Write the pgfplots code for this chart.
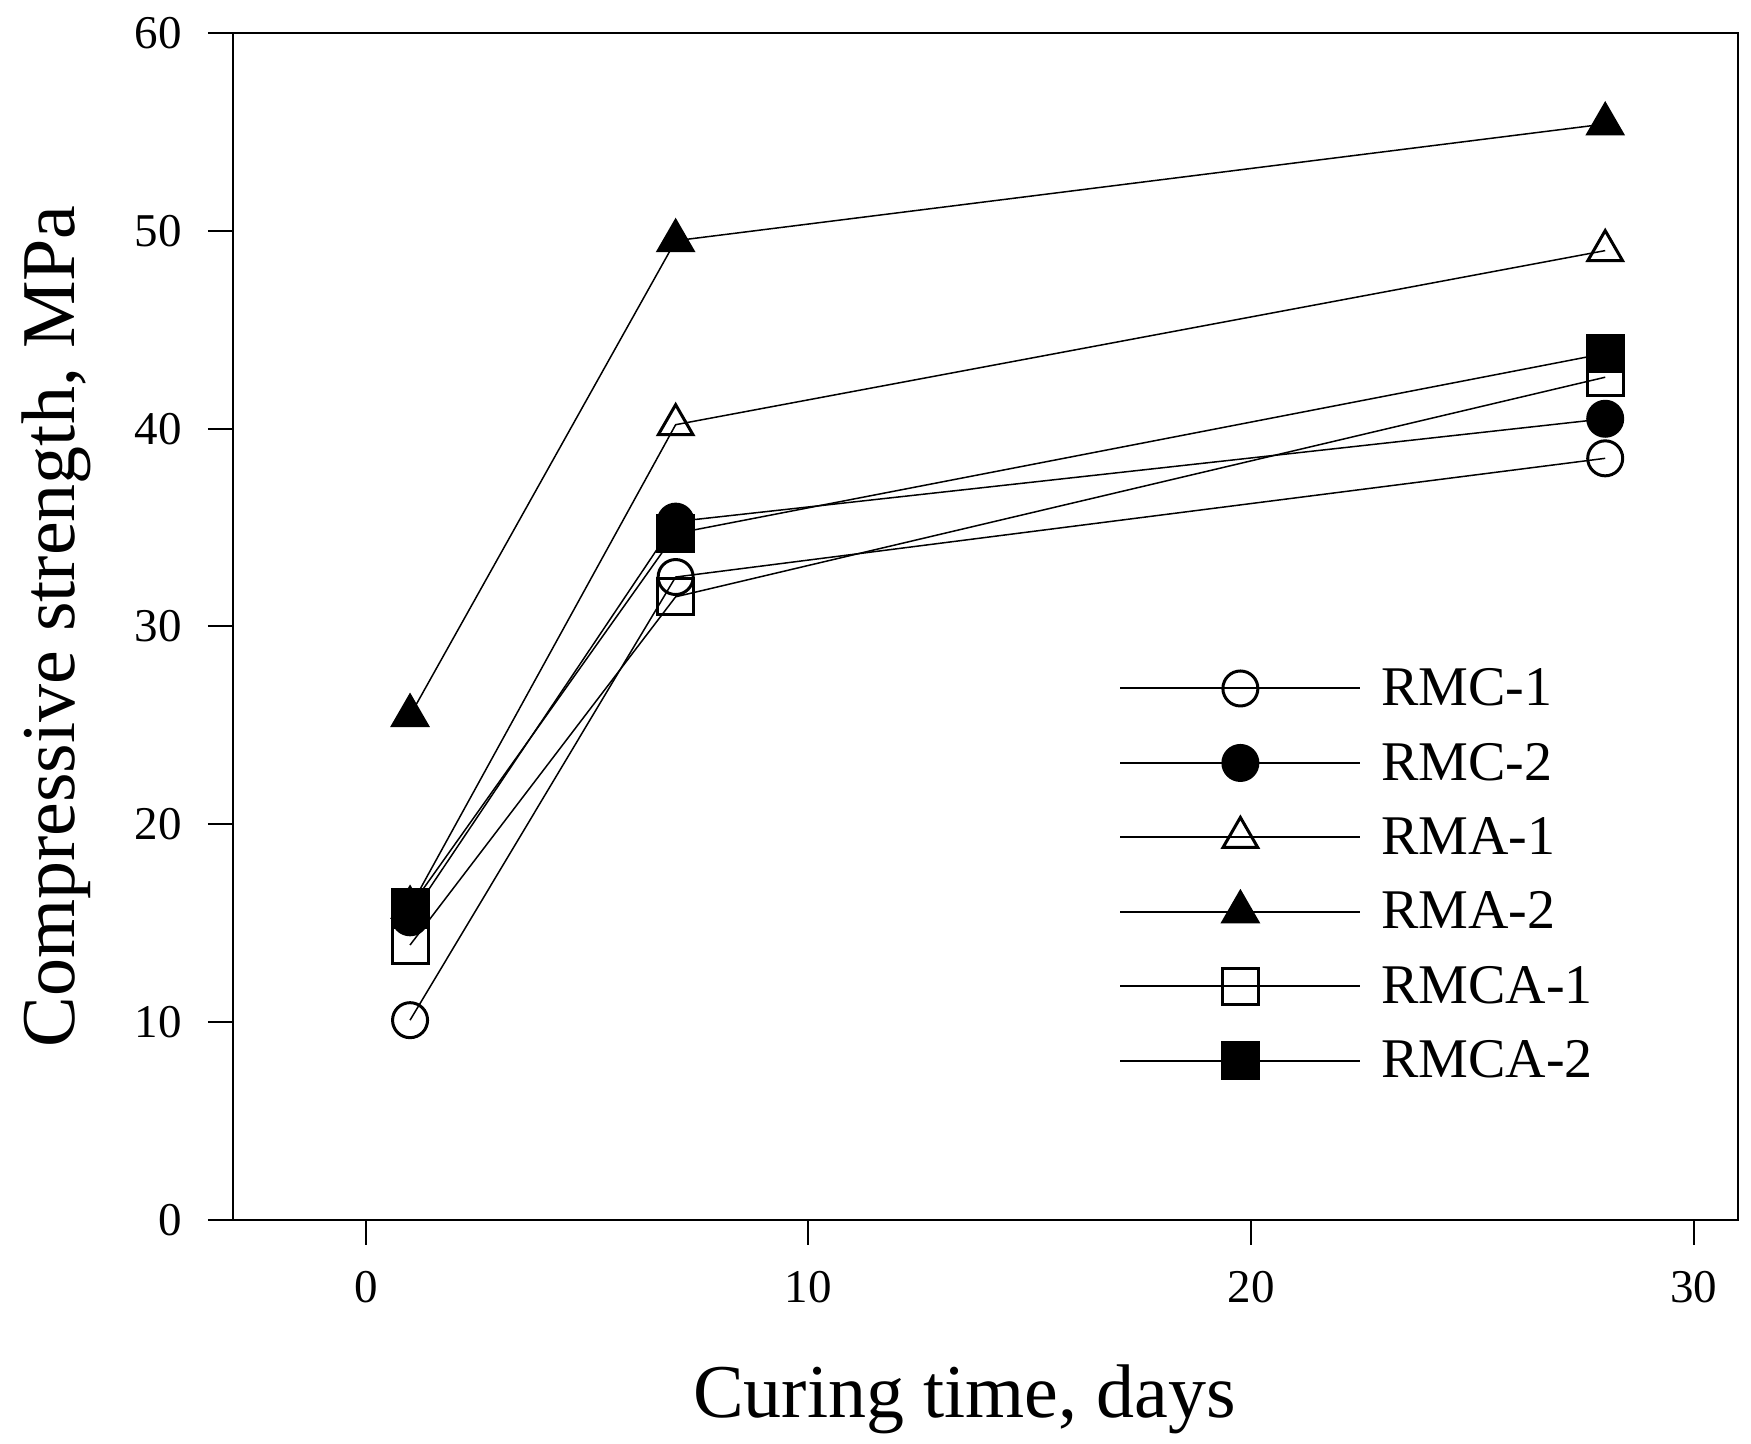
\documentclass[border=0pt]{standalone}
\usepackage{fontspec}
\setmainfont{Liberation Serif}
\usepackage{pgfplots}
\pgfplotsset{compat=1.18}
\begin{document}
\begin{tikzpicture}
\useasboundingbox (-116.5pt,-112pt) rectangle (759pt,610pt);
\begin{axis}[
  at={(0pt,0pt)}, anchor=south west,
  scale only axis, width=752.5pt, height=593.5pt,
  xmin=-3, xmax=31, ymin=0, ymax=60,
  xtick={0,10,20,30}, ytick={0,10,20,30,40,50,60},
  minor tick num=0,
  tick pos=left, tick align=outside, major tick length=12.5pt,
  axis line style={line width=1pt},
  every tick/.style={line width=1pt, black},
  /pgf/number format/assume math mode=true,
  tick label style={font=\fontsize{23.5}{28}\selectfont},
  yticklabel style={xshift=-9.5pt},
  xticklabel style={yshift=-9.5pt},
  xlabel={Curing time, days},
  ylabel={Compressive strength, MPa},
  label style={font=\fontsize{38}{45}\selectfont},
  xlabel style={at={(axis description cs:0.486,0)}, anchor=base, yshift=-99pt},
  ylabel style={at={(axis description cs:-0.1175,0.5)}, anchor=center},
  every axis plot/.append style={black, line width=0.75pt},
  legend image code/.code={\draw[mark repeat=2,mark phase=2,line width=1pt] plot coordinates {(0pt,0pt) (60pt,0pt) (120pt,0pt)};},
  legend cell align=left,
  legend style={draw=none, fill=none, at={(axis description cs:0.5887,0.465)}, anchor=north west,
    font=\fontsize{28}{33}\selectfont, row sep=17.2pt, column sep=10pt, inner sep=0pt,
    nodes={inner sep=0pt}},
]
\addplot[mark=o, mark size=8.75pt, mark options={line width=1.5pt}] coordinates {(1,10.1) (7,32.5) (28,38.5)};
\addlegendentry{RMC-1}
\addplot[mark=*, mark size=8.75pt, mark options={line width=1.5pt, fill=black}] coordinates {(1,15.3) (7,35.3) (28,40.5)};
\addlegendentry{RMC-2}
\addplot[mark=triangle, mark size=10pt, mark options={line width=1.5pt}] coordinates {(1,15.8) (7,40.2) (28,49.0)};
\addlegendentry{RMA-1}
\addplot[mark=triangle*, mark size=10pt, mark options={line width=1.5pt, fill=black}] coordinates {(1,25.5) (7,49.5) (28,55.4)};
\addlegendentry{RMA-2}
\addplot[mark=square, mark size=9pt, mark options={line width=1.5pt}] coordinates {(1,13.9) (7,31.5) (28,42.6)};
\addlegendentry{RMCA-1}
\addplot[mark=square*, mark size=9pt, mark options={line width=1.5pt, fill=black}] coordinates {(1,15.8) (7,34.7) (28,43.8)};
\addlegendentry{RMCA-2}
\end{axis}
\end{tikzpicture}
\end{document}
